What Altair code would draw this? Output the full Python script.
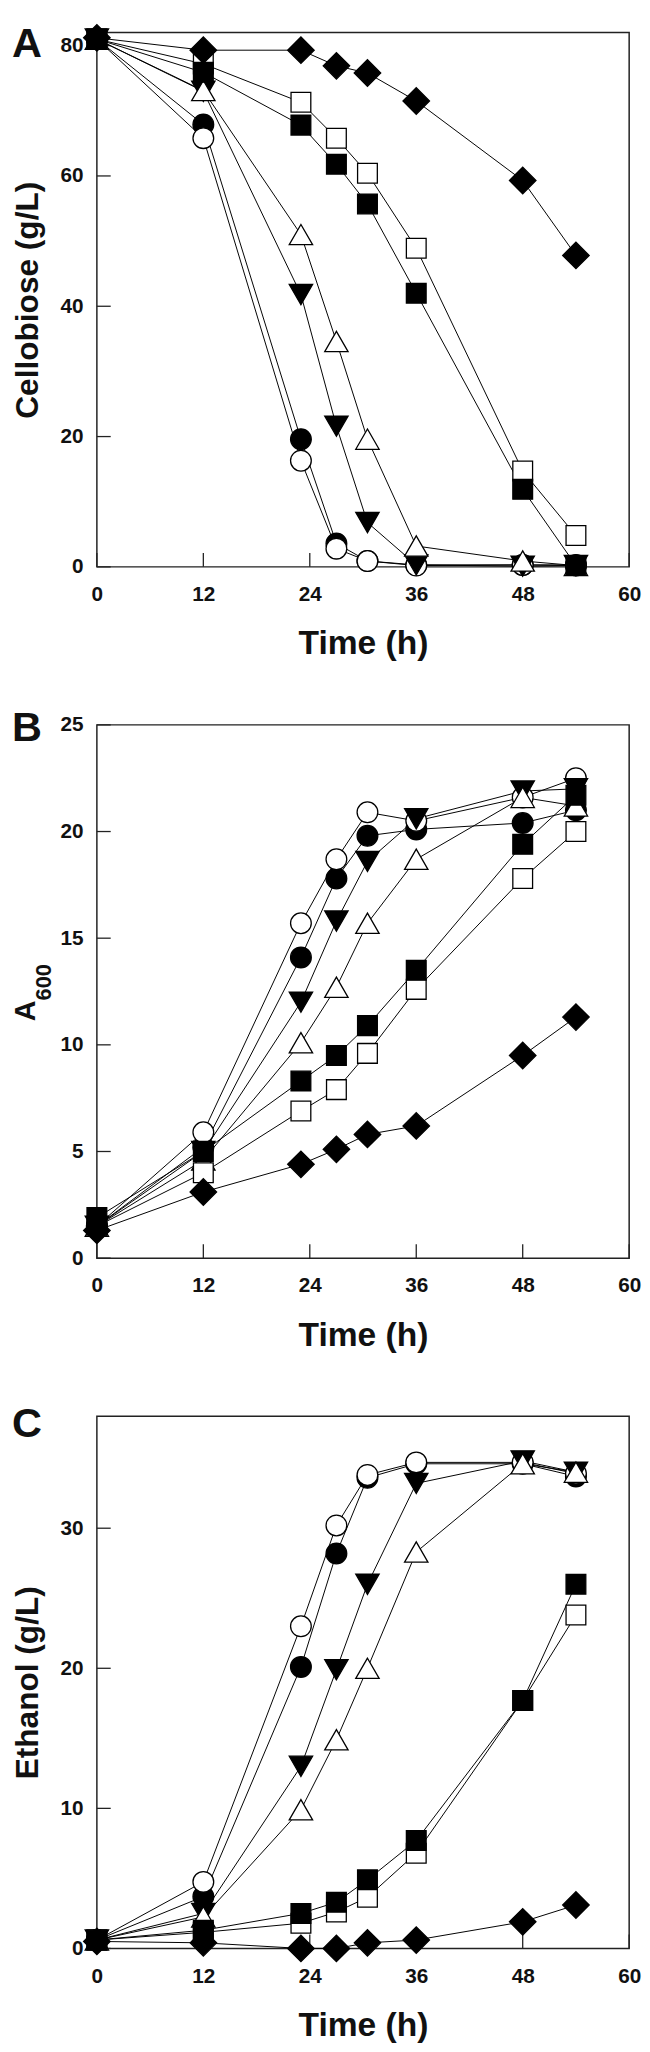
import altair as alt
import pandas as pd

FONT = "Liberation Sans"
INK = "#111111"

# ---- data -----------------------------------------------------------------
times = [0, 12, 23, 27, 30.5, 36, 48, 54]
series = ["filled circle", "open circle", "filled triangle", "open triangle",
          "open square", "filled square", "filled diamond"]
shapes = ["circle", "circle", "triangle-down", "triangle-up", "square", "square", "diamond"]
fills = ["#000000", "#ffffff", "#000000", "#ffffff", "#ffffff", "#000000", "#000000"]
sizes = [440, 440, 560, 560, 400, 400, 720]

# Panel A: Cellobiose (g/L)
cello_fc = [81.0, 67.9, 19.6, 3.6, 0.9, 0.3, 0.3, 0.3]
cello_oc = [81.0, 65.8, 16.3, 2.8, 0.9, 0.2, 0.3, 0.2]
cello_ftd = [81.0, 73.0, 41.8, 21.6, 6.8, 0.3, 0.1, 0.2]
cello_otu = [81.0, 73.1, 51.0, 34.6, 19.6, 3.2, 0.9, 0.2]
cello_os = [81.0, 77.2, 71.3, 65.8, 60.4, 48.9, 14.7, 4.8]
cello_fs = [81.0, 75.9, 67.8, 61.8, 55.7, 42.0, 11.9, 0.2]
cello_fd = [81.2, 79.3, 79.3, 76.9, 75.8, 71.5, 59.3, 47.8]

# Panel B: A600
a600_fc = [1.5, 5.2, 14.1, 17.8, 19.8, 20.1, 20.4, 21.0]
a600_oc = [1.5, 5.9, 15.7, 18.7, 20.9, 20.5, 21.6, 22.5]
a600_ftd = [1.5, 5.0, 12.0, 15.8, 18.6, 20.6, 21.9, 22.0]
a600_otu = [1.5, 4.6, 10.1, 12.7, 15.7, 18.7, 21.6, 21.2]
a600_os = [1.5, 4.0, 6.9, 7.9, 9.6, 12.6, 17.8, 20.0]
a600_fs = [1.9, 5.0, 8.3, 9.5, 10.9, 13.5, 19.4, 21.7]
a600_fd = [1.3, 3.1, 4.4, 5.1, 5.8, 6.2, 9.5, 11.3]

# Panel C: Ethanol (g/L)
eth_fc = [0.6, 3.7, 20.1, 28.2, 33.6, 34.6, 34.6, 33.7]
eth_oc = [0.6, 4.75, 23.0, 30.2, 33.8, 34.7, 34.7, 33.9]
eth_ftd = [0.6, 2.5, 13.0, 19.9, 26.0, 33.2, 34.8, 34.0]
eth_otu = [0.6, 2.25, 9.9, 14.9, 20.0, 28.3, 34.6, 34.0]
eth_os = [0.6, 1.15, 1.8, 2.6, 3.65, 6.8, 17.7, 23.8]
eth_fs = [0.6, 1.3, 2.5, 3.3, 4.9, 7.7, 17.7, 26.0]
eth_fd = [0.5, 0.4, 0.0, 0.0, 0.4, 0.6, 1.9, 3.1]

x_ticks = [0, 12, 24, 36, 48, 60]
cello_ticks = [0, 20, 40, 60, 80]
a600_ticks = [0, 5, 10, 15, 20, 25]
eth_ticks = [0, 10, 20, 30]

W = 539
TICK = 14


def long_frame(cols):
    rows = []
    for rank, (name, vals) in enumerate(zip(series, cols)):
        for t, v in zip(times, vals):
            rows.append({"series": name, "rank": rank, "time": t, "value": v})
    return pd.DataFrame(rows)


def panel(cols, ymax, yticks, ytitle, letter, letter_y, H):
    df = long_frame(cols)
    xscale = alt.Scale(domain=[0, 60], nice=False, zero=False)
    yscale = alt.Scale(domain=[0, ymax], nice=False, zero=False)
    xaxis = alt.Axis(values=x_ticks, title="Time (h)", ticks=False, tickSize=0,
                     domain=False, grid=False, labelFont=FONT, labelFontSize=21,
                     labelFontWeight="bold", labelColor=INK, labelPadding=17,
                     labelFlush=False, labelOverlap=False,
                     titleFont=FONT, titleFontSize=34, titleFontWeight="bold",
                     titleColor=INK, titleX=W / 2, titleY=88,
                     titleBaseline="alphabetic", titleAlign="center")
    yaxis_kw = dict(values=yticks, ticks=False, tickSize=0, domain=False, grid=False,
                    labelFont=FONT, labelFontSize=21, labelFontWeight="bold",
                    labelColor=INK, labelPadding=14, labelFlush=False,
                    labelOverlap=False)
    if ytitle:
        yaxis = alt.Axis(title=ytitle, titleFont=FONT, titleFontSize=32,
                         titleFontWeight="bold", titleColor=INK, titleAngle=270,
                         titleX=-60, titleY=H / 2, titleBaseline="alphabetic",
                         titleAlign="center", **yaxis_kw)
    else:
        yaxis = alt.Axis(title=None, **yaxis_kw)

    x = alt.X("time:Q", scale=xscale, axis=xaxis)
    y = alt.Y("value:Q", scale=yscale, axis=yaxis)

    base = alt.Chart(df)
    lines = base.mark_line(color="black", strokeWidth=1).encode(
        x=x, y=y, detail="series:N", order="time:Q")

    point_layers = []
    for i, name in enumerate(series):
        point_layers.append(
            alt.Chart(df[df["series"] == name]).mark_point(
                shape=shapes[i], filled=True, fill=fills[i], stroke="black",
                strokeWidth=1.3, size=sizes[i], opacity=1
            ).encode(x=x, y=y)
        )

    xt = alt.Chart(pd.DataFrame({"t": x_ticks})).mark_rule(
        color="#222222", strokeWidth=1.3).encode(
        x=alt.X("t:Q", scale=xscale, axis=xaxis),
        y=alt.value(H), y2=alt.value(H - TICK))
    yt = alt.Chart(pd.DataFrame({"t": yticks})).mark_rule(
        color="#222222", strokeWidth=1.3).encode(
        y=alt.Y("t:Q", scale=yscale, axis=yaxis),
        x=alt.value(0), x2=alt.value(TICK))
    lab = alt.Chart(pd.DataFrame({"t": [letter]})).mark_text(
        font=FONT, fontSize=42, fontWeight="bold", align="left",
        baseline="alphabetic", color=INK).encode(
        text="t:N", x=alt.value(-86), y=alt.value(letter_y))
    layers = [xt, yt, lines] + point_layers + [lab]
    if not ytitle:
        a_txt = alt.Chart(pd.DataFrame({"t": ["A"]})).mark_text(
            font=FONT, fontSize=29, fontWeight="bold", align="left",
            baseline="alphabetic", angle=270, color=INK).encode(
            text="t:N", x=alt.value(-63), y=alt.value(H / 2 + 30))
        sub_txt = alt.Chart(pd.DataFrame({"t": ["600"]})).mark_text(
            font=FONT, fontSize=22, fontWeight="bold", align="left",
            baseline="alphabetic", angle=270, color=INK).encode(
            text="t:N", x=alt.value(-46), y=alt.value(H / 2 + 9))
        layers += [a_txt, sub_txt]
    return alt.layer(*layers).properties(width=W, height=H)


pa = panel([cello_fc, cello_oc, cello_ftd, cello_otu, cello_os, cello_fs, cello_fd],
           82, cello_ticks, "Cellobiose (g/L)", "A", 25, 541)
pb = panel([a600_fc, a600_oc, a600_ftd, a600_otu, a600_os, a600_fs, a600_fd],
           25, a600_ticks, None, "B", 16, 540)
pc = panel([eth_fc, eth_oc, eth_ftd, eth_otu, eth_os, eth_fs, eth_fd],
           38, eth_ticks, "Ethanol (g/L)", "C", 21, 539)

chart = alt.vconcat(pa, pb, pc, spacing=160, bounds="flush").properties(
    padding={"left": 3, "top": 0, "right": 0, "bottom": 0}
).configure_view(stroke="#222222", strokeWidth=1.5).configure_axis(grid=False)

chart.save("out.html", embed_options={"renderer": "svg", "actions": False})
